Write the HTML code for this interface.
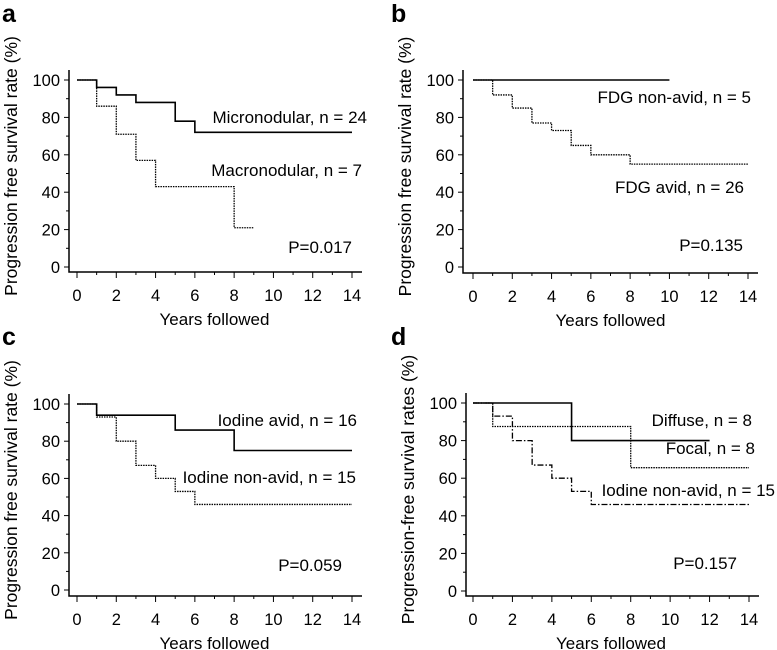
<!DOCTYPE html>
<html><head><meta charset="utf-8"><style>
html,body{margin:0;padding:0;background:#fff}
svg{display:block;font-family:"Liberation Sans",Arial,sans-serif}
</style></head><body>
<svg id="fig" width="777" height="650" viewBox="0 0 777 650" xmlns="http://www.w3.org/2000/svg"></svg>
<script>
// Panel a
const aMicroT=[0,1,2,3,5,6], aMicroS=[100,96,92,88,78,72], aMicroEnd=14;
const aMacroT=[0,1,2,3,4,8], aMacroS=[100,86,71,57,43,21], aMacroEnd=9;
// Panel b
const bNonT=[0], bNonS=[100], bNonEnd=10;
const bAvidT=[0,1,2,3,4,5,6,8], bAvidS=[100,92,85,77,73,65,60,55], bAvidEnd=14;
// Panel c
const cAvidT=[0,1,5,8], cAvidS=[100,94,86,75], cAvidEnd=14;
const cNonT=[0,1,2,3,4,5,6], cNonS=[100,93,80,67,60,53,46], cNonEnd=14;
// Panel d
const dDiffT=[0,5], dDiffS=[100,80], dDiffEnd=12;
const dFocT=[0,1,8], dFocS=[100,87.5,65.6], dFocEnd=14;
const dNonT=[0,1,2,3,4,5,6], dNonS=[100,93,80,67,60,53,46], dNonEnd=14;
const xTicks=[0,2,4,6,8,10,12,14];
const yTicks=[0,20,40,60,80,100];

const NS="http://www.w3.org/2000/svg";
const svg=document.getElementById('fig');
function mk(tag,attrs,parent,txt){const e=document.createElementNS(NS,tag);for(const k in attrs)e.setAttribute(k,attrs[k]);if(txt!==undefined)e.textContent=txt;(parent||svg).appendChild(e);return e;}

function panel(p){
  const g=mk('g',{});
  
  
  const sx=v=>p.x0+(p.x14-p.x0)*v/14;
  const sy=v=>p.y0+(p.y100-p.y0)*v/100;
  const L=mk('text',{x:p.lx,y:p.ly,'font-size':25,'font-weight':'bold'},g,p.letter);
  
  const ax=mk('path',{d:`M${p.ax},${p.y100-10} V${p.ab} H${p.x14+10}`,stroke:'#000','stroke-width':1.5,fill:'none'},g);
  
  for(let v=0;v<=100;v+=10){
    const major=v%20===0;
    mk('line',{x1:p.ax-(major?5:3),x2:p.ax,y1:sy(v),y2:sy(v),stroke:'#000','stroke-width':1},g);
  }
  yTicks.forEach(v=>{const t=mk('text',{x:p.ax-9,y:sy(v)+6,'font-size':16.5,'text-anchor':'end'},g,String(v));
    });
  for(let v=0;v<=14;v++){
    const major=v%2===0;
    mk('line',{x1:sx(v),x2:sx(v),y1:p.ab,y2:p.ab+(major?6:3),stroke:'#000','stroke-width':1},g);
  }
  xTicks.forEach(v=>{const t=mk('text',{x:sx(v),y:p.ab+29,'font-size':16.5,'text-anchor':'middle'},g,String(v));
    });
  const xt=mk('text',{x:(p.x0+p.x14)/2,y:p.ab+53,'font-size':17,'text-anchor':'middle'},g,'Years followed');
  
  const yc=(p.y100+p.ab)/2-10;
  const yt=mk('text',{x:0,y:0,'font-size':17.5,'text-anchor':'middle',transform:`translate(${p.ax-52},${yc}) rotate(-90)`},g,p.ytitle);
  
  p.series.forEach(s=>{
    let d=`M${sx(s.t[0])},${sy(s.s[0])}`;
    for(let i=1;i<s.t.length;i++){d+=` H${sx(s.t[i])} V${sy(s.s[i])}`;}
    d+=` H${sx(s.end)}`;
    const a={d:d,stroke:'#000',fill:'none','stroke-width':s.w||1.6};
    if(s.dash)a['stroke-dasharray']=s.dash;
    const pa=mk('path',a,g);
    
  });
  p.labels.forEach(l=>{const t=mk('text',{x:l[0],y:l[1],'font-size':17,'text-anchor':'end'},g,l[2]);
    });
}

panel({letter:'a',lx:2,ly:22,x0:77,x14:352,y0:267,y100:80,ax:69,ab:272,ytitle:'Progression free survival rate (%)',
  series:[{t:aMicroT,s:aMicroS,end:aMicroEnd,name:'micronodular-line'},{t:aMacroT,s:aMacroS,end:aMacroEnd,dash:'1.5,1',w:1.3,name:'macronodular-line'}],
  labels:[[367,123,'Micronodular, n = 24','micronodular-label'],[362,176,'Macronodular, n = 7','macronodular-label'],[352,253,'P=0.017','p-value']]});
panel({letter:'b',lx:391,ly:22,x0:473,x14:748,y0:267,y100:80,ax:463,ab:273,ytitle:'Progression free survival rate (%)',
  series:[{t:bNonT,s:bNonS,end:bNonEnd,name:'fdg-nonavid-line'},{t:bAvidT,s:bAvidS,end:bAvidEnd,dash:'1.5,1',w:1.3,name:'fdg-avid-line'}],
  labels:[[751,103,'FDG non-avid, n = 5','fdg-nonavid-label'],[744,193,'FDG avid, n = 26','fdg-avid-label'],[743,251,'P=0.135','p-value']]});
panel({letter:'c',lx:2,ly:345,x0:77,x14:352,y0:590,y100:404,ax:69,ab:596,ytitle:'Progression free survival rate (%)',
  series:[{t:cAvidT,s:cAvidS,end:cAvidEnd,name:'iodine-avid-line'},{t:cNonT,s:cNonS,end:cNonEnd,dash:'1.5,1',w:1.3,name:'iodine-nonavid-line'}],
  labels:[[357,426,'Iodine avid, n = 16','iodine-avid-label'],[356,483,'Iodine non-avid, n = 15','iodine-nonavid-label'],[342,571,'P=0.059','p-value']]});
panel({letter:'d',lx:391,ly:345,x0:473,x14:749,y0:591,y100:403,ax:466,ab:596,ytitle:'Progression-free survival rates (%)',
  series:[{t:dDiffT,s:dDiffS,end:dDiffEnd,name:'diffuse-line'},{t:dFocT,s:dFocS,end:dFocEnd,dash:'1.5,1',w:1.3,name:'focal-line'},{t:dNonT,s:dNonS,end:dNonEnd,dash:'6,2,1.5,2',w:1.3,name:'iodine-nonavid-line'}],
  labels:[[752,426,'Diffuse, n = 8','diffuse-label'],[755,454,'Focal, n = 8','focal-label'],[775,496,'Iodine non-avid, n = 15','iodine-nonavid-label'],[737,569,'P=0.157','p-value']]});
</script>
</body></html>
